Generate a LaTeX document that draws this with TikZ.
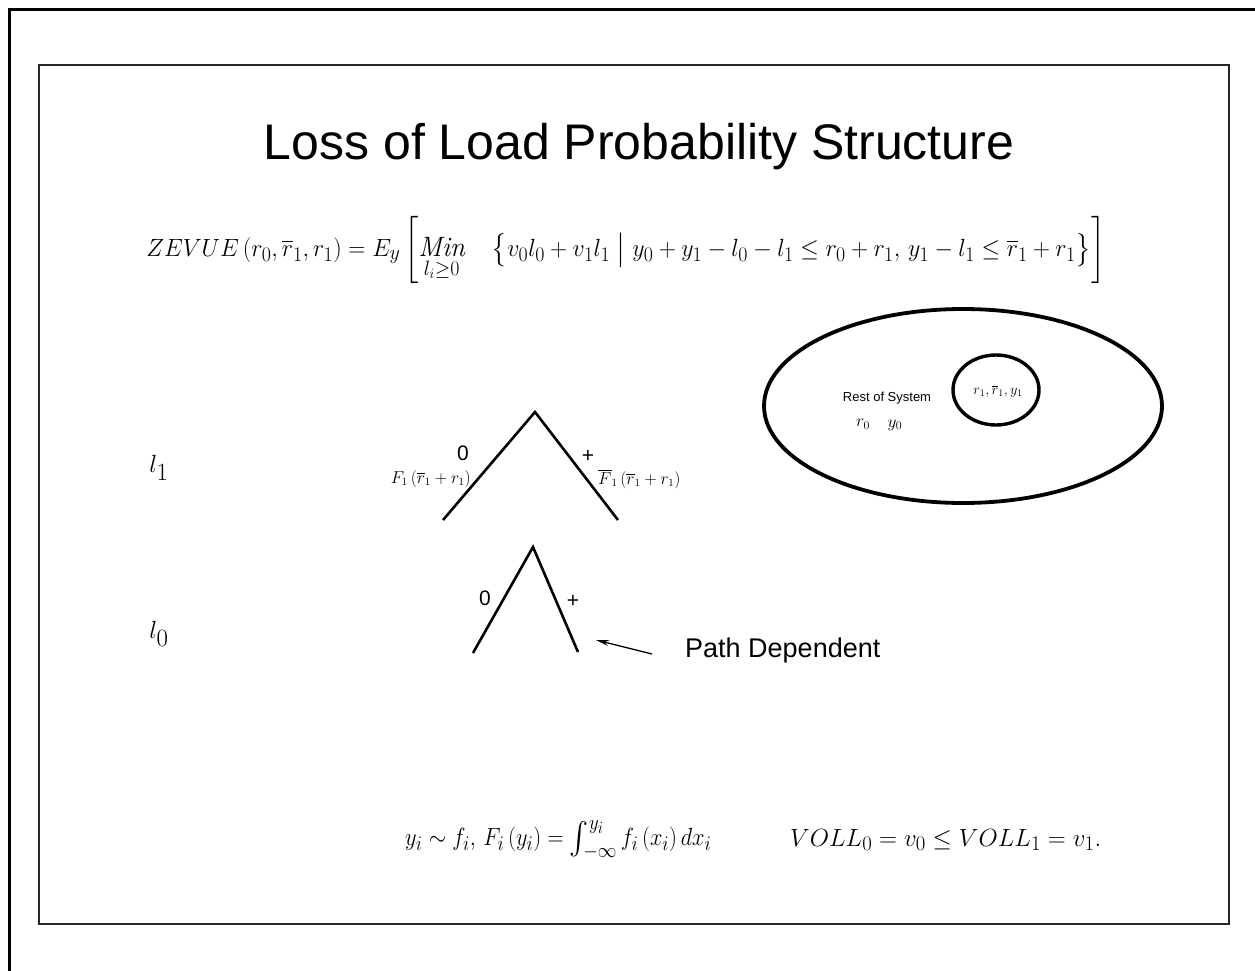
\documentclass[tikz,border=0pt]{standalone}
\usepackage{amsmath,amssymb}
\usepackage{fontspec}
\newfontfamily\arialfont{Liberation Sans}
\usepackage{tikz}
\usetikzlibrary{arrows.meta}

\begin{document}
\begin{tikzpicture}[x=1pt, y=-1pt, >={Stealth[length=13pt, width=6pt]},
    branch/.style={line width=2.6pt},
    ring/.style={line width=3.8pt},
    sanslbl/.style={font=\arialfont\fontsize{21}{23}\selectfont, inner sep=0pt},
    mathlbl/.style={inner sep=0pt}]
    \useasboundingbox (0,0) rectangle (1255,971);

    % Slide frames
    \draw[line width=3pt] (1255,10) -- (9,10) -- (9,971);
    \draw[line width=1.3pt, black!85] (39,65) rectangle (1229,924);

    % Title and objective
    \node[font=\arialfont\fontsize{50}{56}\selectfont, inner sep=0pt] (title) at (639,147) {Loss of Load Probability Structure};
    \node[mathlbl, font=\fontsize{28}{32}\selectfont] (zevue) at (626,250)
      {\scalebox{0.96}[1]{$\displaystyle ZEVUE\left(r_0,\overline{r}_1,r_1\right)=E_y\left[\operatorname*{\mathit{Min}}_{l_i\ge 0}\quad\bigl\{v_0l_0+v_1l_1\bigm|y_0+y_1-l_0-l_1\le r_0+r_1,\,y_1-l_1\le\overline{r}_1+r_1\bigr\}\right]$}};

    % Stage labels
    \node[mathlbl, font=\fontsize{48}{52}\selectfont] (l1) at (159,468) {$l_1$};
    \node[mathlbl, font=\fontsize{48}{52}\selectfont] (l0) at (159,634) {$l_0$};

    % Upper tree (stage 1)
    \coordinate (top1) at (535,412);
    \coordinate (lft1) at (443,520);
    \coordinate (rgt1) at (618,520);
    \draw[branch] (lft1) -- (top1) -- (rgt1);
    \node[sanslbl] (zero1) at (463,453) {0};
    \node[sanslbl] (plus1) at (588,456) {+};
    \node[mathlbl, font=\fontsize{16}{18}\selectfont, anchor=east] (F1) at (471,479) {$F_1\left(\overline{r}_1+r_1\right)$};
    \node[mathlbl, font=\fontsize{16}{18}\selectfont, anchor=west] (Fb1) at (598,479) {$\overline{F}_1\left(\overline{r}_1+r_1\right)$};

    % Lower tree (stage 0)
    \coordinate (top0) at (533,547);
    \coordinate (lft0) at (473,653);
    \coordinate (rgt0) at (578,652);
    \draw[branch] (lft0) -- (top0) -- (rgt0);
    \node[sanslbl] (zero0) at (485,598) {0};
    \node[sanslbl] (plus0) at (573,601) {+};

    % Path dependence note
    \node[font=\arialfont\fontsize{27}{30}\selectfont, inner sep=0pt, anchor=west] (path) at (685,651) {Path Dependent};
    \coordinate (tail) at (652,654);
    \coordinate (tip) at (596,640);
    \draw[->, line width=1.3pt] (tail) -- (tip);

    % System picture
    \draw[ring] (963,406) ellipse [x radius=199, y radius=97];
    \draw[ring, line width=3.4pt] (996,390) ellipse [x radius=43, y radius=35];
    \node[mathlbl, font=\fontsize{14}{16}\selectfont] (loc) at (998,391) {$r_1,\overline{r}_1,y_1$};
    \node[font=\arialfont\fontsize{13}{15}\selectfont, inner sep=0pt] (rest) at (887,398) {Rest of System};
    \node[mathlbl, font=\fontsize{17}{19}\selectfont] (r0) at (863,424) {$r_0$};
    \node[mathlbl, font=\fontsize{17}{19}\selectfont] (y0) at (895,425) {$y_0$};

    % Distributions and VOLL ordering
    \node[mathlbl, font=\fontsize{32}{36}\selectfont, anchor=west] (dist) at (405,840)
      {\scalebox{0.9}[1]{$y_i\sim f_i,\,F_i\left(y_i\right)=\int_{-\infty}^{y_i}f_i\left(x_i\right)dx_i$}};
    \node[mathlbl, font=\fontsize{32}{36}\selectfont, anchor=west] (voll) at (790,840)
      {$VOLL_0=v_0\le VOLL_1=v_1.$};
\end{tikzpicture}
\end{document}
